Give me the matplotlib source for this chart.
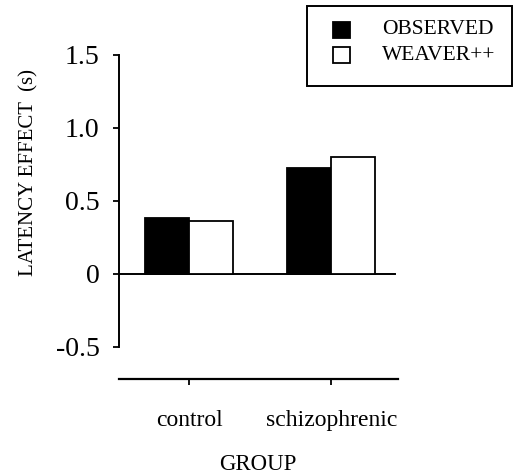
import matplotlib
matplotlib.use("Agg")
import matplotlib.pyplot as plt
from matplotlib.patches import Rectangle
import numpy as np

# --- data ---
groups = ["control", "schizophrenic"]
observed = [0.386, 0.724]
weaver = [0.36, 0.80]
series_labels = ["OBSERVED", "WEAVER++"]
series_colors = ["black", "white"]
yticks = [-0.5, 0, 0.5, 1.0, 1.5]
ytick_labels = ["-0.5", "0", "0.5", "1.0", "1.5"]

plt.rcParams['font.family'] = ['Liberation Serif', 'DejaVu Serif']

W, H = 514, 473
fig = plt.figure(figsize=(W / 100, H / 100), dpi=100)
ax = fig.add_axes([119 / W, 1 - 379 / H, (398 - 119) / W, (379 - 55) / H])

x = np.arange(len(groups))
w = 0.31
ax.bar(x - w / 2, observed, w, color=series_colors[0], edgecolor='black', linewidth=1.3, zorder=3)
ax.bar(x + w / 2, weaver, w, color=series_colors[1], edgecolor='black', linewidth=1.3, zorder=3)

ax.axhline(0, color='black', linewidth=1.4, xmax=0.99, zorder=2)

ax.set_xlim(-0.493, 1.47)
ax.set_ylim(-0.72, 1.5)

for s in ['top', 'right']:
    ax.spines[s].set_visible(False)
ax.spines['left'].set_bounds(-0.5, 1.5)
ax.spines['left'].set_linewidth(1.4)
ax.spines['bottom'].set_linewidth(1.6)

ax.set_yticks(yticks)
ax.set_yticklabels(ytick_labels, fontsize=20)
ax.set_xticks(x)
ax.set_xticklabels(groups, fontsize=17)
ax.tick_params(axis='y', direction='out', length=4, width=1.3, pad=10)
ax.tick_params(axis='x', direction='out', length=4, width=1.3, pad=18)

# axis titles
fig.text(29 / W, 1 - 172 / H, "LATENCY EFFECT  (s)", rotation=90,
         ha='center', va='center', fontsize=15)
fig.text(258 / W, 1 - 464 / H, "GROUP", ha='center', va='center', fontsize=16.5)

# legend box drawn by hand
fig.patches.append(Rectangle((307 / W, 1 - 86 / H), (512 - 307) / W, 80 / H,
                             transform=fig.transFigure, facecolor='white',
                             edgecolor='black', linewidth=1.4))
for i, (lab, col) in enumerate(zip(series_labels, series_colors)):
    cy = 30 + 25 * i
    fig.patches.append(Rectangle((333 / W, 1 - (cy + 8) / H), 17 / W, 16 / H,
                                 transform=fig.transFigure, facecolor=col,
                                 edgecolor='black', linewidth=1.3))
    fig.text(382 / W, 1 - cy / H, lab, ha='left', va='center', fontsize=15.5)

fig.savefig("out.png", dpi=100)
